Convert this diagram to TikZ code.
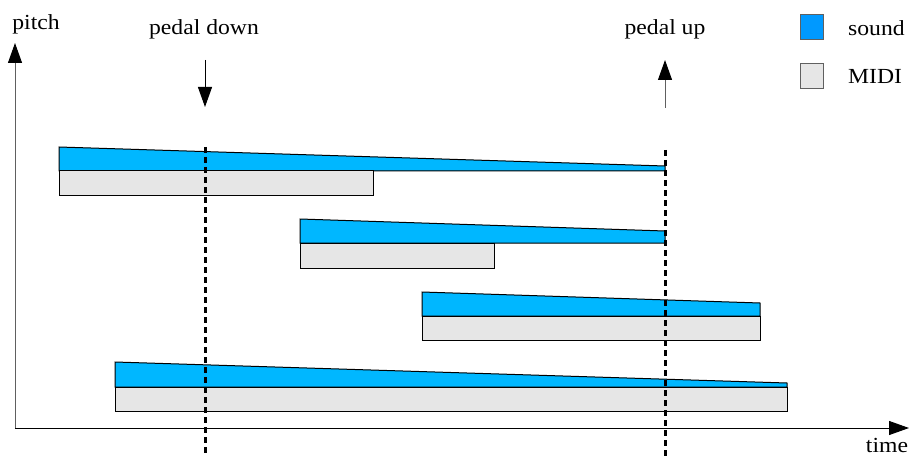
\documentclass[tikz,border=0pt]{standalone}
\usepackage{fontspec}
\setmainfont{Liberation Serif}[FakeStretch=1.1]
\usetikzlibrary{arrows.meta}
\definecolor{soundfill}{HTML}{00B7FF}
\definecolor{soundkey}{HTML}{0099FF}
\definecolor{midifill}{HTML}{E6E6E6}
\definecolor{axisgray}{HTML}{606060}
\tikzset{
  lbl/.style={font=\fontsize{21.5}{24}\selectfont, inner sep=0pt, anchor=base},
  tip/.style={-{Triangle[length=20pt,width=14pt,color=black]}},
  sound/.style={fill=soundfill, draw=black, line width=1pt, line join=miter},
  midi/.style={fill=midifill, draw=black, line width=1pt},
  pedal/.style={draw=black, line width=3pt, dash pattern=on 6pt off 4pt},
  keybox/.style={draw=axisgray, line width=1pt, minimum width=23pt, minimum height=25pt, inner sep=0pt}
}
\begin{document}
\begin{tikzpicture}[x=1pt,y=-1pt]
\useasboundingbox (0,0) rectangle (909,457);

% axes
\coordinate (o) at (15,428);
\coordinate (ytop) at (15,43);
\coordinate (xend) at (909,428);
\draw[tip, axisgray, line width=1pt] (o) -- (ytop);
\draw[tip, black, line width=1pt] (o) -- (xend);
\node[lbl, anchor=base] (pitch) at (36,30) {pitch};
\node[lbl, anchor=base] (time) at (887,452) {time};

% notes: decaying sound above the MIDI duration
\draw[sound] (59,147) -- (665,166) -- (665,171) -- (59,171) -- cycle;
\draw[midi] (59,171) rectangle (373,195);

\draw[sound] (300,219) -- (665,231) -- (665,243) -- (300,243) -- cycle;
\draw[midi] (300,243) rectangle (494,268);

\draw[sound] (422,292) -- (760,303) -- (760,316) -- (422,316) -- cycle;
\draw[midi] (422,316) rectangle (760,340);

\draw[sound] (115,362) -- (787,383) -- (787,387) -- (115,387) -- cycle;
\draw[midi] (115,387) rectangle (787,411);

% pedal events
\coordinate (dtop) at (205,147);
\coordinate (dbot) at (205,457);
\coordinate (utop) at (665,150);
\coordinate (ubot) at (665,457);
\draw[pedal] (dtop) -- (dbot);
\draw[pedal] (utop) -- (ubot);

\node[lbl] (down) at (204,35) {pedal down};
\node[lbl] (up) at (665,35) {pedal up};
\coordinate (da) at (205,60);
\coordinate (db) at (205,107);
\coordinate (ua) at (665,108);
\coordinate (ub) at (665,60);
\draw[tip, black, line width=1pt] (da) -- (db);
\draw[tip, axisgray, line width=1pt] (ua) -- (ub);

% legend
\node[keybox, fill=soundkey] (ksound) at (811.5,27) {};
\node[keybox, fill=midifill] (kmidi) at (811.5,76) {};
\node[lbl, anchor=base west] (tsound) at (848,36) {sound};
\node[lbl, anchor=base west] (tmidi) at (848,84) {MIDI};
\end{tikzpicture}
\end{document}
